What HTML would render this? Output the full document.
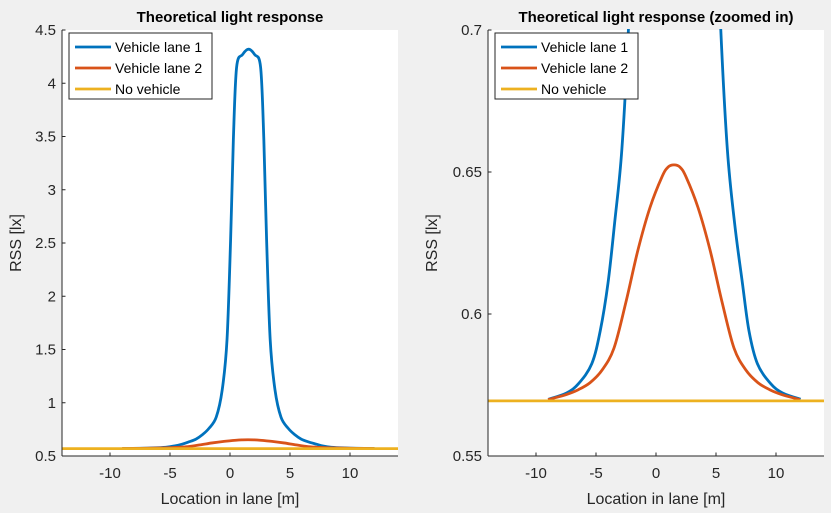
<!DOCTYPE html>
<html><head><meta charset="utf-8"><style>
html,body{margin:0;padding:0;background:#f0f0f0;}
svg{display:block;font-family:"Liberation Sans",Arial,sans-serif;}
</style></head><body>
<svg id="chart" width="831" height="513" viewBox="0 0 831 513"></svg>
<script>
const blueX=[-8.95,-7.45,-6.45,-5.35,-4.65,-4.0,-3.45,-2.85,-2.3,-1.75,-1.15,-0.65,-0.25,0.05,0.28,0.55,1.05,1.55,2.05,2.55,2.82,3.05,3.35,3.75,4.25,4.85,5.4,5.95,6.55,7.2,7.75,8.45,9.55,10.55,12.05];
const blueY=[0.5700,0.5722,0.5755,0.5825,0.594,0.6109,0.632,0.6577,0.70,0.76,0.864,1.12,1.59,2.53,3.47,4.15,4.27,4.32,4.27,4.15,3.47,2.53,1.59,1.12,0.864,0.76,0.70,0.6577,0.632,0.6109,0.594,0.5825,0.5755,0.5722,0.5700];
const orangeX=[-9,-8.5,-7.5,-6.5,-5.5,-4.5,-3.5,-2.5,-1.5,-0.5,0.5,1.0,1.5,2.0,2.5,3.5,4.5,5.5,6.5,7.5,8.5,9.5,10.5,11.5,12];
const orangeY=[0.5698,0.5704,0.5716,0.5733,0.5758,0.5802,0.5880,0.6043,0.6226,0.6375,0.6483,0.6517,0.6525,0.6517,0.6483,0.6375,0.6226,0.6043,0.5880,0.5802,0.5758,0.5733,0.5716,0.5704,0.5698];
const baseX=[-14,14];
const baseY=[0.5694,0.5694];
const xTicks=[-10,-5,0,5,10];
const leftYTicks=[0.5,1,1.5,2,2.5,3,3.5,4,4.5];
const leftYLabels=["0.5","1","1.5","2","2.5","3","3.5","4","4.5"];
const rightYTicks=[0.55,0.6,0.65,0.7];
const rightYLabels=["0.55","0.6","0.65","0.7"];
const legendLabels=["Vehicle lane 1","Vehicle lane 2","No vehicle"];
const colors=["#0072BD","#D95319","#EDB120"];

const NS="http://www.w3.org/2000/svg";
const svg=document.getElementById('chart');
function mk(tag,attrs,parent){const e=document.createElementNS(NS,tag);for(const k in attrs)e.setAttribute(k,attrs[k]);(parent||svg).appendChild(e);return e;}
function smoothPath(pts){
  if(pts.length<3)return pts.map((p,i)=>(i?'L':'M')+p[0].toFixed(2)+' '+p[1].toFixed(2)).join(' ');
  let d='M'+pts[0][0].toFixed(2)+' '+pts[0][1].toFixed(2);
  for(let i=0;i<pts.length-1;i++){
    const p0=pts[Math.max(0,i-1)],p1=pts[i],p2=pts[i+1],p3=pts[Math.min(pts.length-1,i+2)];
    const c1x=p1[0]+(p2[0]-p0[0])/6,c1y=p1[1]+(p2[1]-p0[1])/6;
    const c2x=p2[0]-(p3[0]-p1[0])/6,c2y=p2[1]-(p3[1]-p1[1])/6;
    d+=' C'+c1x.toFixed(2)+' '+c1y.toFixed(2)+' '+c2x.toFixed(2)+' '+c2y.toFixed(2)+' '+p2[0].toFixed(2)+' '+p2[1].toFixed(2);
  }
  return d;
}

function panel(opt){
  const g=mk('g',{});
  
  
  const L=opt.left,T=30,W=336,B=456;
  const sx=v=>L+(v+14)/28*W;
  const sy=v=>B-(v-opt.ymin)/(opt.ymax-opt.ymin)*(B-T);
  const bg=mk('rect',{x:L,y:T,width:W,height:B-T,fill:'#fff'},g);
  
  
  const clipId='clip'+L;
  const cp=mk('clipPath',{id:clipId},g);mk('rect',{x:L,y:T-1,width:W,height:B-T+1},cp);
  const lg=mk('g',{'clip-path':'url(#'+clipId+')'},g);
  const series=[[blueX,blueY],[orangeX,orangeY],[baseX,baseY]];
  const names=['line-vehicle-lane-1','line-vehicle-lane-2','line-no-vehicle'];
  series.forEach((s,i)=>{
    const pts=s[0].map((x,j)=>[sx(x),sy(s[1][j])]);
    const p=mk('path',{d:smoothPath(pts),fill:'none',stroke:colors[i],'stroke-width':2.8,'stroke-linejoin':'round'},lg);
    
    
  });
  const xa=mk('line',{x1:L,y1:B,x2:L+W,y2:B,stroke:'#262626','stroke-width':1},g);
  
  
  const ya=mk('line',{x1:L,y1:T,x2:L,y2:B,stroke:'#262626','stroke-width':1},g);
  
  
  xTicks.forEach(t=>{
    const x=sx(t);
    mk('line',{x1:x,y1:B,x2:x,y2:B-3.5,stroke:'#262626'},g);
    const tx=mk('text',{x:x,y:B+22,'font-size':15,'text-anchor':'middle',fill:'#262626'},g);
    tx.textContent=t;
    
    
  });
  opt.yt.forEach((t,i)=>{
    const y=sy(t);
    mk('line',{x1:L,y1:y,x2:L+3.5,y2:y,stroke:'#262626'},g);
    const tx=mk('text',{x:L-6,y:y+5,'font-size':15,'text-anchor':'end',fill:'#262626'},g);
    tx.textContent=opt.yl[i];
    
    
  });
  const xt=mk('text',{x:L+W/2,y:504,'font-size':16,'text-anchor':'middle',fill:'#262626'},g);
  xt.textContent='Location in lane [m]';
  
  
  const yx=opt.ylabelX;
  const yt=mk('text',{x:yx,y:243,'font-size':16,'text-anchor':'middle',fill:'#262626',transform:'rotate(-90 '+yx+' 243)'},g);
  yt.textContent='RSS [lx]';
  
  
  const ti=mk('text',{x:L+W/2,y:22,'font-size':15,'font-weight':'bold','text-anchor':'middle',fill:'#000'},g);
  ti.textContent=opt.title;
  
  
  const lgd=mk('g',{},g);
  
  
  const lx=L+7;
  mk('rect',{x:lx,y:33,width:143,height:66,fill:'#fff',stroke:'#262626','stroke-width':1},lgd);
  legendLabels.forEach((lab,i)=>{
    const y=47+i*21;
    const e=mk('g',{},lgd);
    
    
    mk('line',{x1:lx+6,y1:y,x2:lx+42,y2:y,stroke:colors[i],'stroke-width':2.8},e);
    const t=mk('text',{x:lx+46,y:y+5,'font-size':14,fill:'#000'},e);
    t.textContent=lab;
  });
}
panel({name:'left-panel',left:62,ymin:0.5,ymax:4.5,yt:leftYTicks,yl:leftYLabels,title:'Theoretical light response',ylabelX:21});
panel({name:'right-panel',left:488,ymin:0.55,ymax:0.7,yt:rightYTicks,yl:rightYLabels,title:'Theoretical light response (zoomed in)',ylabelX:437});
</script>
</body></html>
